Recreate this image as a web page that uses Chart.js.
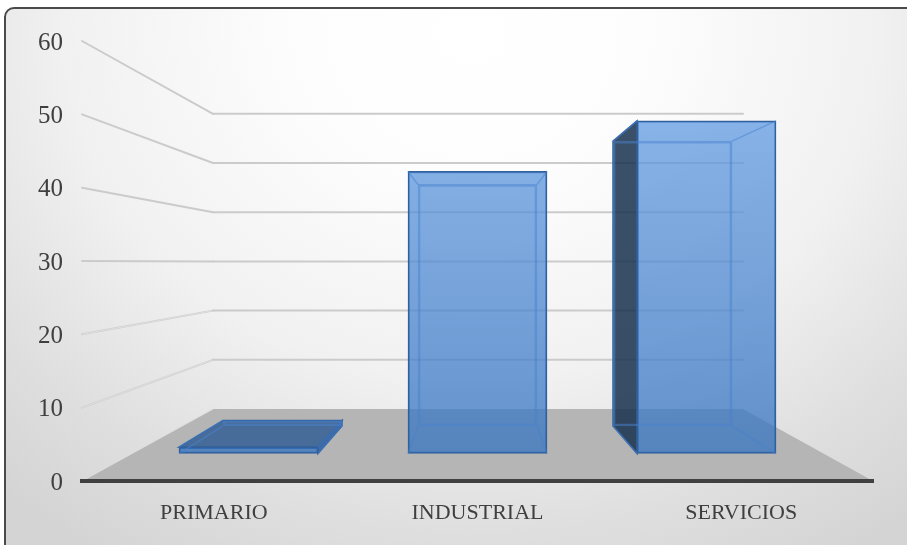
<!DOCTYPE html>
<html>
<head>
<meta charset="utf-8">
<title>Sectores</title>
<script src="https://cdn.jsdelivr.net/npm/chart.js@4/dist/chart.umd.min.js"></script>
<style>
  html, body { margin: 0; padding: 0; width: 907px; height: 545px; overflow: hidden; background: #fff; }
  .card {
    position: absolute; left: 4px; top: 7px; width: 1000px; height: 700px;
    box-sizing: border-box; border: 2px solid #4a4a4a; border-radius: 10px;
    background: radial-gradient(ellipse 700px 600px at 466px 23px, #ffffff 0%, #fdfdfd 25%, #f1f1f1 58%, #dfdfdf 83%, #d4d4d4 102%);
  }
  canvas { position: absolute; left: 0; top: 0; }
</style>
</head>
<body>
<div class="card"></div>
<canvas id="sector-chart" width="907" height="545"></canvas>
<script>
const CATEGORIES = ['PRIMARIO', 'INDUSTRIAL', 'SERVICIOS'];
const SECTOR_VALUES = [1, 44, 51.9];
const TICK_VALUES = [0, 10, 20, 30, 40, 50, 60];

const FONT_FAMILY = '"Liberation Serif", serif';
const LABEL_COLOR = '#3f3f3f';
const FLOOR_COLOR = '#b5b5b5';
const WALL_LINE = '#cbcbcb';
const FRONT_BORDER = '#31609c';
const INNER_EDGE = 'rgba(72, 130, 205, 0.5)';

const barPoints = SECTOR_VALUES.map((value, index) => ({ x: index, y: value }));

function frontFill(context) {
  const { ctx, chartArea } = context.chart;
  if (!chartArea) return 'rgb(90, 140, 210)';
  const gradient = ctx.createLinearGradient(0, chartArea.top, 0, chartArea.bottom);
  gradient.addColorStop(0, 'rgba(108, 164, 234, 0.75)');
  gradient.addColorStop(1, 'rgba(50, 112, 188, 0.75)');
  return gradient;
}

function box(el) {
  const half = el.width / 2;
  return { left: el.x - half, right: el.x + half, top: el.y, bottom: el.base };
}

function fillPolygon(ctx, points, color) {
  ctx.beginPath();
  points.forEach(([x, y], i) => (i ? ctx.lineTo(x, y) : ctx.moveTo(x, y)));
  ctx.closePath();
  ctx.fillStyle = color;
  ctx.fill();
  ctx.strokeStyle = FRONT_BORDER;
  ctx.lineWidth = 1.5;
  ctx.stroke();
}

function strokeLine(ctx, x1, y1, x2, y2, color, width) {
  ctx.beginPath();
  ctx.moveTo(x1, y1);
  ctx.lineTo(x2, y2);
  ctx.strokeStyle = color;
  ctx.lineWidth = width;
  ctx.stroke();
}

// back wall, side wall and floor of the 3D frame, projected from the axis scales
const framePlugin = {
  id: 'frame',
  beforeDraw(chart) {
    const { ctx, chartArea, scales } = chart;
    const wallLeft = chartArea.left + 131;
    const wallRight = chartArea.right - 130;
    ctx.save();
    ctx.beginPath();
    ctx.moveTo(chartArea.left, scales.y.getPixelForValue(0));
    ctx.lineTo(wallLeft, scales.yWall.getPixelForValue(0));
    ctx.lineTo(wallRight, scales.yWall.getPixelForValue(0));
    ctx.lineTo(chartArea.right, scales.y.getPixelForValue(0));
    ctx.closePath();
    ctx.fillStyle = FLOOR_COLOR;
    ctx.fill();
    ctx.lineCap = 'round';
    TICK_VALUES.forEach((tick) => {
      const frontY = scales.y.getPixelForValue(tick);
      const backY = scales.yWall.getPixelForValue(tick);
      if (tick === 0) {
        strokeLine(ctx, chartArea.left, frontY, wallLeft, backY, '#dedede', 1);
        return;
      }
      strokeLine(ctx, chartArea.left, frontY, wallLeft, backY, WALL_LINE, 2);
      // the lower side-wall lines read as hollow
      if (tick <= 20) strokeLine(ctx, chartArea.left, frontY, wallLeft, backY, '#e8e8e8', 0.7);
      strokeLine(ctx, wallLeft, backY, wallRight, backY, WALL_LINE, 2);
    });
    ctx.restore();
  },
  // outer faces of each bar, between its front and back rectangles
  beforeDatasetsDraw(chart) {
    const { ctx } = chart;
    const backBars = chart.getDatasetMeta(0).data;
    const frontBars = chart.getDatasetMeta(1).data;
    ctx.save();
    frontBars.forEach((el, i) => {
      const f = box(el);
      const b = box(backBars[i]);
      if (b.left < f.left) {
        fillPolygon(ctx, [[f.left, f.top], [b.left, b.top], [b.left, b.bottom], [f.left, f.bottom]], 'rgba(24, 48, 78, 0.85)');
      }
      if (b.top < f.top) {
        fillPolygon(ctx, [[f.left, f.top], [b.left, b.top], [b.right, b.top], [f.right, f.top]], 'rgba(60, 100, 150, 0.9)');
      }
      if (b.right > f.right) {
        fillPolygon(ctx, [[f.right, f.top], [b.right, b.top], [b.right, b.bottom], [f.right, f.bottom]], 'rgba(50, 100, 165, 0.9)');
      }
    });
    ctx.restore();
  },
  // inner edges stay visible through the translucent front
  afterDatasetsDraw(chart) {
    const { ctx } = chart;
    const backBars = chart.getDatasetMeta(0).data;
    const frontBars = chart.getDatasetMeta(1).data;
    ctx.save();
    frontBars.forEach((el, i) => {
      const f = box(el);
      const b = box(backBars[i]);
      strokeLine(ctx, f.left, f.top, b.left, b.top, INNER_EDGE, 1.5);
      strokeLine(ctx, f.right, f.top, b.right, b.top, INNER_EDGE, 1.5);
      strokeLine(ctx, f.left, f.bottom, b.left, b.bottom, INNER_EDGE, 1.5);
      strokeLine(ctx, f.right, f.bottom, b.right, b.bottom, INNER_EDGE, 1.5);
    });
    ctx.restore();
  }
};

new Chart(document.getElementById('sector-chart'), {
  type: 'bar',
  plugins: [framePlugin],
  data: {
    labels: CATEGORIES,
    datasets: [
      {
        label: 'Fondo',
        data: barPoints,
        xAxisID: 'xBack',
        yAxisID: 'yBack',
        grouped: false,
        barThickness: 119,
        backgroundColor: 'rgba(0, 0, 0, 0)',
        borderColor: INNER_EDGE,
        borderWidth: 2,
        borderSkipped: false
      },
      {
        label: 'Frente',
        data: barPoints,
        xAxisID: 'xFront',
        yAxisID: 'yFront',
        grouped: false,
        barThickness: 139,
        backgroundColor: frontFill,
        borderColor: FRONT_BORDER,
        borderWidth: 1.5,
        borderSkipped: false
      }
    ]
  },
  options: {
    responsive: false,
    animation: false,
    layout: { padding: { top: 41, right: 34, bottom: 0, left: 0 } },
    plugins: { legend: { display: false }, tooltip: { enabled: false } },
    scales: {
      x: {
        type: 'category',
        labels: CATEGORIES,
        afterFit: (scale) => { scale.height = 64; },
        grid: { display: false },
        border: { color: '#404040', width: 4 },
        ticks: { color: LABEL_COLOR, padding: 11, maxRotation: 0, font: { family: FONT_FAMILY, size: 22 } }
      },
      y: {
        type: 'linear',
        min: 0,
        max: 60,
        afterFit: (scale) => { scale.width = 82; },
        grid: { display: false },
        border: { display: false },
        ticks: { stepSize: 10, color: LABEL_COLOR, padding: 11, labelOffset: 2, font: { family: FONT_FAMILY, size: 25 } }
      },
      // projection planes: back wall, bar fronts and bar backs
      yWall: { type: 'linear', display: false, min: -14.63, max: 74.8 },
      yFront: { type: 'linear', display: false, min: -4.29, max: 64.35 },
      yBack: { type: 'linear', display: false, min: -10.02, max: 70.13 },
      xFront: { type: 'linear', display: false, offset: false, min: -0.727, max: 2.727 },
      xBack: { type: 'linear', display: false, offset: false, min: -1.028, max: 3.028 }
    }
  }
});
</script>
</body>
</html>
